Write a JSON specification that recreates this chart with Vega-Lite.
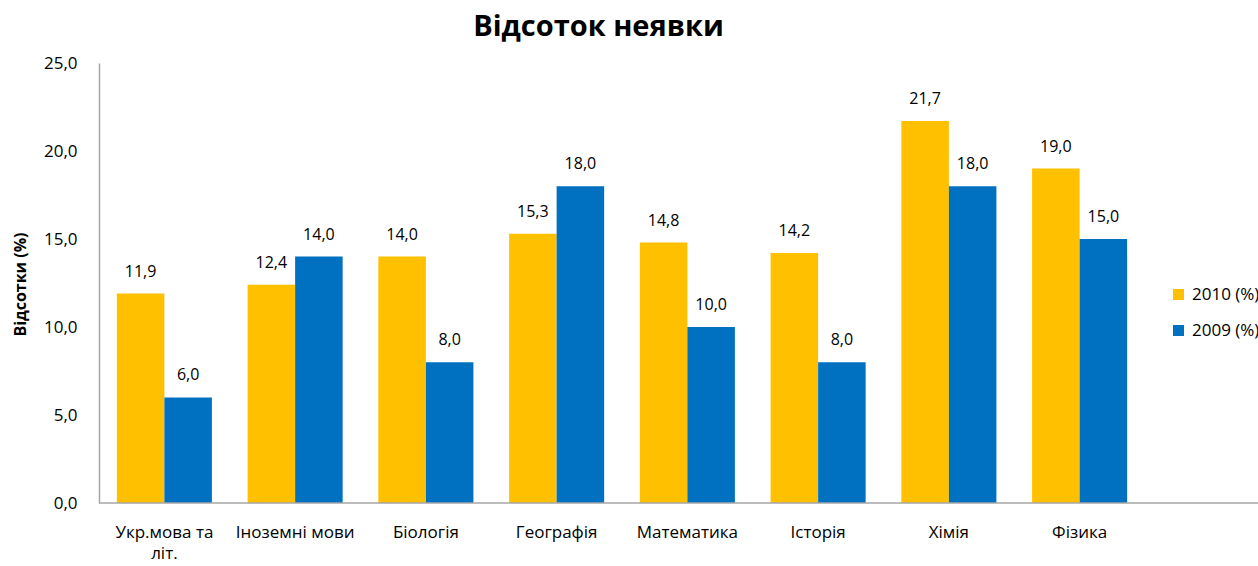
{
  "$schema": "https://vega.github.io/schema/vega-lite/v6.json",
  "width": 1159,
  "height": 440,
  "autosize": "none",
  "padding": {"left": 99, "top": 63, "right": 0, "bottom": 63},
  "background": "white",
  "title": {
    "text": "Відсоток неявки",
    "fontSize": 29,
    "fontWeight": "bold",
    "font": "Open Sans",
    "color": "#000000",
    "anchor": "middle",
    "dx": -80,
    "offset": 12
  },
  "config": {
    "view": {"stroke": null},
    "locale": {"number": {"decimal": ",", "thousands": " ", "grouping": [3], "currency": ["", ""]}},
    "font": "Open Sans"
  },
  "layer": [
    {
      "data": {"values": [
        {"subject": "Укр.мова та літ.", "year": "2010 (%)", "value": 11.9},
        {"subject": "Укр.мова та літ.", "year": "2009 (%)", "value": 6.0},
        {"subject": "Іноземні мови", "year": "2010 (%)", "value": 12.4},
        {"subject": "Іноземні мови", "year": "2009 (%)", "value": 14.0},
        {"subject": "Біологія", "year": "2010 (%)", "value": 14.0},
        {"subject": "Біологія", "year": "2009 (%)", "value": 8.0},
        {"subject": "Географія", "year": "2010 (%)", "value": 15.3},
        {"subject": "Географія", "year": "2009 (%)", "value": 18.0},
        {"subject": "Математика", "year": "2010 (%)", "value": 14.8},
        {"subject": "Математика", "year": "2009 (%)", "value": 10.0},
        {"subject": "Історія", "year": "2010 (%)", "value": 14.2},
        {"subject": "Історія", "year": "2009 (%)", "value": 8.0},
        {"subject": "Хімія", "year": "2010 (%)", "value": 21.7},
        {"subject": "Хімія", "year": "2009 (%)", "value": 18.0},
        {"subject": "Фізика", "year": "2010 (%)", "value": 19.0},
        {"subject": "Фізика", "year": "2009 (%)", "value": 15.0}
      ]},
      "encoding": {
        "x": {
          "field": "subject",
          "type": "nominal",
          "sort": null,
          "scale": {"range": [0, 1046], "paddingInner": 0.273, "paddingOuter": 0.1365},
          "axis": {
            "title": null,
            "domain": false,
            "ticks": false,
            "labelAngle": 0,
            "labelFontSize": 17,
            "labelColor": "#000000",
            "labelPadding": 34,
            "labelBaseline": "alphabetic",
            "labelLineHeight": 21,
            "labelExpr": "datum.value == 'Укр.мова та літ.' ? ['Укр.мова та', 'літ.'] : datum.value"
          }
        },
        "xOffset": {"field": "year", "type": "nominal", "sort": ["2010 (%)", "2009 (%)"], "scale": {"paddingInner": 0, "paddingOuter": 0}},
        "y": {
          "field": "value",
          "type": "quantitative",
          "scale": {"domain": [0, 25], "nice": false, "zero": true},
          "axis": {
            "title": "Відсотки (%)",
            "titleFontSize": 16,
            "titleFontWeight": "bold",
            "titleColor": "#000000",
            "titleX": -79,
            "titleY": 221,
            "titleAngle": -90,
            "titleAlign": "center",
            "titleBaseline": "middle",
            "values": [0, 5, 10, 15, 20, 25],
            "format": ".1f",
            "grid": false,
            "ticks": false,
            "domainColor": "#A6A6A6",
            "domainWidth": 1.5,
            "labelFontSize": 17,
            "labelColor": "#000000",
            "labelPadding": 22
          }
        }
      },
      "layer": [
        {
          "mark": {"type": "bar"},
          "encoding": {
            "color": {
              "field": "year",
              "type": "nominal",
              "scale": {"domain": ["2010 (%)", "2009 (%)"], "range": ["#FFC000", "#0070C0"]},
              "legend": {
                "title": null,
                "orient": "none",
                "legendX": 1071,
                "legendY": 223,
                "symbolType": "square",
                "symbolSize": 121,
                "symbolStrokeWidth": 0,
                "labelFontSize": 17,
                "labelColor": "#000000",
                "rowPadding": 18,
                "padding": 0,
                "labelOffset": 5
              }
            }
          }
        },
        {
          "mark": {"type": "text", "baseline": "alphabetic", "dy": -17, "fontSize": 16, "color": "#000000"},
          "encoding": {
            "text": {"field": "value", "type": "quantitative", "format": ".1f"}
          }
        }
      ]
    },
    {
      "data": {"values": [{"base": 0}]},
      "mark": {"type": "rule", "color": "#A6A6A6", "strokeWidth": 1.5},
      "encoding": {
        "y": {"field": "base", "type": "quantitative"}
      }
    }
  ]
}
